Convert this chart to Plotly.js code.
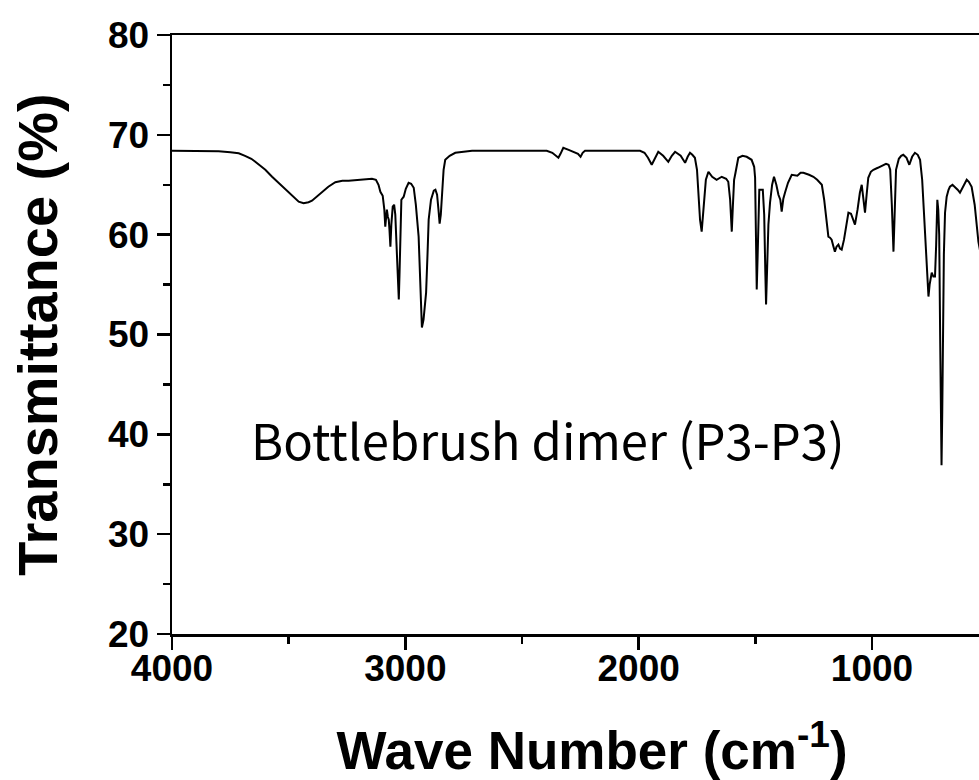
<!DOCTYPE html>
<html>
<head>
<meta charset="utf-8">
<script src="https://cdn.plot.ly/plotly-3.0.1.min.js"></script>
<style>
html, body { margin: 0; padding: 0; overflow: hidden; background: #fff; }
#chart { width: 1032px; height: 780px; }
</style>
</head>
<body>
<div id="chart"></div>
<script>
// Wave number (cm^-1)
const waveNumber = [
4000,3900,3800,3750,3714,3687,3660,3643,3600,3571,3535,3500,3470,3457,3436,3415,3400,3380,3357,3330,
3300,3270,3243,3200,3170,3143,3126,3115,3107,3097,3090,3086,3082,3079,3075,3071,3068,3064,3060,3054,
3048,3043,3036,3031,3028,3025,3020,3017,3007,2998,2986,2975,2964,2955,2943,2935,2929,2922,2911,2905,
2900,2890,2878,2871,2864,2858,2853,2848,2843,2836,2829,2810,2786,2750,2714,2500,2394,2370,2355,2344,
2335,2323,2300,2280,2260,2249,2240,2230,2100,1994,1975,1960,1944,1930,1916,1895,1873,1858,1844,1820,
1801,1790,1780,1770,1759,1750,1742,1737,1730,1722,1712,1701,1685,1666,1644,1625,1616,1608,1601,1596,
1591,1585,1573,1555,1537,1516,1505,1501,1497,1494,1490,1483,1468,1462,1457,1454,1449,1444,1437,1428,
1420,1410,1401,1393,1387,1380,1373,1360,1344,1320,1306,1294,1270,1251,1235,1215,1205,1195,1187,1180,
1173,1165,1159,1152,1144,1137,1130,1120,1110,1101,1090,1080,1073,1062,1052,1044,1037,1030,1023,1016,
1005,994,975,951,940,929,922,915,908,903,897,885,875,866,852,840,828,816,804,794,
785,778,773,768,763,758,753,748,744,737,730,725,720,716,712,708,705,702,699,696,
692,687,680,672,666,655,645,633,623,610,600,594,585,573,560,550,544,530
];
// Transmittance (%)
const transmittance = [
68.4,68.4,68.35,68.25,68.15,67.9,67.6,67.3,66.5,65.8,65.0,64.2,63.6,63.3,63.15,63.25,63.4,63.8,64.3,64.8,
65.25,65.4,65.4,65.5,65.5,65.6,65.5,65.0,64.3,63.9,62.5,60.8,61.8,62.5,61.8,61.5,60.5,58.8,61.0,62.8,
63.0,62.0,58.0,54.5,53.5,56.0,62.0,63.5,63.8,64.6,65.2,65.1,64.7,63.0,59.8,55.0,50.7,51.5,54.2,58.0,
61.5,63.5,64.4,64.5,64.0,62.5,61.1,62.0,63.8,66.5,67.5,67.9,68.2,68.3,68.4,68.4,68.4,68.2,67.9,67.7,
68.1,68.7,68.5,68.3,68.1,67.8,68.2,68.4,68.4,68.4,68.2,67.7,67.0,67.6,68.3,67.9,67.3,67.9,68.3,67.9,
67.2,67.8,68.2,68.0,67.7,66.5,63.5,61.5,60.3,62.5,65.5,66.3,65.8,65.5,65.8,65.6,65.3,63.5,60.3,63.0,
65.5,66.2,67.7,67.9,67.8,67.5,66.8,65.7,60.0,54.5,58.0,64.5,64.5,62.0,56.0,53.0,57.0,61.0,63.2,65.0,
65.8,65.0,64.0,63.5,62.3,63.6,64.2,65.2,66.0,65.9,66.2,66.2,66.0,65.8,65.5,65.0,63.5,61.5,59.8,59.7,
59.5,58.8,58.3,58.8,59.0,58.6,58.5,59.5,61.2,62.2,62.1,61.4,61.0,62.5,64.2,65.0,63.5,62.2,64.0,65.7,
66.3,66.5,66.7,67.0,67.1,67.0,66.5,63.0,58.3,62.0,66.5,67.6,67.9,68.0,67.7,67.0,67.8,68.2,68.0,67.5,
65.5,62.5,60.2,57.0,55.0,53.8,55.0,55.8,56.2,55.8,55.8,59.0,63.5,62.5,60.0,50.0,42.0,36.9,42.0,52.0,
58.0,62.2,63.8,64.5,64.8,65.0,64.8,64.5,64.2,64.8,65.3,65.5,65.3,64.8,63.0,61.0,59.3,57.5
];
const xTickValues = [4000, 3000, 2000, 1000];
const yTickValues = [20, 30, 40, 50, 60, 70, 80];
const sampleLabel = "Bottlebrush dimer (P3-P3)";

const tickFont = { family: "Liberation Sans, Arial, sans-serif", size: 37, color: "#000", weight: "bold" };

Plotly.newPlot("chart", [{
  x: waveNumber,
  y: transmittance,
  type: "scatter",
  mode: "lines",
  line: { color: "#000", width: 2 },
  hoverinfo: "skip"
}], {
  width: 1032,
  height: 780,
  margin: { l: 172, r: 20, t: 35, b: 146 },
  paper_bgcolor: "#fff",
  plot_bgcolor: "#fff",
  showlegend: false,
  xaxis: {
    range: [4000, 400],
    tickmode: "array",
    tickvals: xTickValues,
    ticktext: xTickValues.map(String),
    ticks: "outside",
    ticklen: 13,
    tickwidth: 2.5,
    tickcolor: "#000",
    ticklabelstandoff: -13,
    minor: { dtick: 500, tick0: 500, ticks: "outside", ticklen: 7, tickwidth: 2.5, tickcolor: "#000", showgrid: false },
    showline: true,
    linewidth: 2.5,
    linecolor: "#000",
    mirror: true,
    showgrid: false,
    zeroline: false,
    tickfont: tickFont,
    title: {
      text: "Wave Number (cm<sup>-1</sup>)",
      font: { family: "Liberation Sans, Arial, sans-serif", size: 53, color: "#000", weight: "bold" },
      standoff: 61
    }
  },
  yaxis: {
    range: [20, 80],
    tickmode: "array",
    tickvals: yTickValues,
    ticktext: yTickValues.map(String),
    ticks: "outside",
    ticklen: 13,
    tickwidth: 2.5,
    tickcolor: "#000",
    minor: { dtick: 5, tick0: 0, ticks: "outside", ticklen: 7, tickwidth: 2.5, tickcolor: "#000", showgrid: false },
    showline: true,
    linewidth: 2.5,
    linecolor: "#000",
    mirror: true,
    showgrid: false,
    zeroline: false,
    tickfont: tickFont,
    title: {
      text: "Transmittance (%)",
      font: { family: "Liberation Sans, Arial, sans-serif", size: 56, color: "#000", weight: "bold" },
      standoff: 33
    }
  },
  annotations: [{
    x: 2388,
    y: 39.6,
    xref: "x",
    yref: "y",
    text: sampleLabel,
    showarrow: false,
    font: { family: "Noto Sans CJK SC, Noto Sans, sans-serif", size: 49, color: "#000" },
    xanchor: "center",
    yanchor: "middle"
  }]
}, { staticPlot: true, displayModeBar: false });
</script>
</body>
</html>
